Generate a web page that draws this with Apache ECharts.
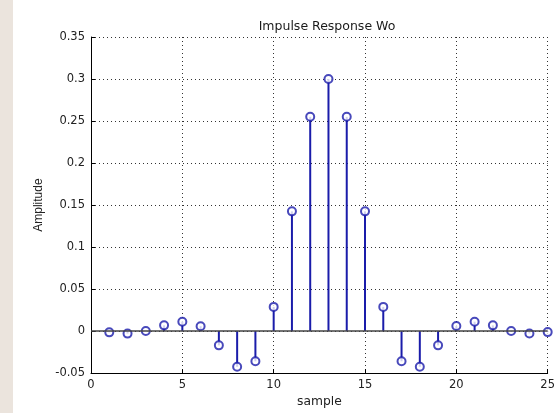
<!DOCTYPE html>
<html>
<head>
<meta charset="utf-8">
<script src="https://cdn.jsdelivr.net/npm/echarts@6/dist/echarts.min.js"></script>
<style>
  html, body { margin: 0; padding: 0; background: #fff; }
  #chart { width: 558px; height: 413px; }
</style>
</head>
<body>
<div id="chart"></div>
<script>
// samples and impulse response values
const samples = [1, 2, 3, 4, 5, 6, 7, 8, 9, 10, 11, 12, 13, 14, 15, 16, 17, 18, 19, 20, 21, 22, 23, 24, 25]
const amplitude = [
  -0.0015, -0.003, 0.0, 0.0068, 0.0112, 0.0058, -0.017, -0.0425, -0.036, 0.0288,
  0.1425, 0.255, 0.300, 0.255, 0.1425, 0.0288, -0.036, -0.0425, -0.017, 0.006,
  0.0112, 0.0068, 0.0, -0.0028, -0.0012
]
const xTicks = { min: 0, max: 25, interval: 5 }
const yTicks = { min: -0.05, max: 0.35, interval: 0.05 }

const stemColor = '#1a1caa'
const points = samples.map((s, i) => [s, amplitude[i]])

const chart = echarts.init(document.getElementById('chart'))
const tickFont = { fontFamily: 'DejaVu Sans, sans-serif', fontSize: 11.5, color: '#222' }

chart.setOption({
  animation: false,
  backgroundColor: '#fff',
  graphic: [
    // beige strip on the left edge of the screenshot
    { type: 'rect', left: 0, top: 0, shape: { width: 13, height: 413 }, style: { fill: '#ebe4dd' }, z: -10 }
  ],
  title: {
    text: 'Impulse Response Wo',
    left: 322,
    textAlign: 'center',
    top: 15,
    textStyle: { fontFamily: 'DejaVu Sans, sans-serif', fontSize: 12.5, fontWeight: 'normal', color: '#1a1a1a' }
  },
  grid: { left: 91, right: 4, top: 37, bottom: 38 },
  xAxis: {
    type: 'value',
    min: xTicks.min,
    max: xTicks.max,
    interval: xTicks.interval,
    name: 'sample',
    nameLocation: 'middle',
    nameGap: 21,
    nameTextStyle: { fontFamily: 'DejaVu Sans, sans-serif', fontSize: 12.3, color: '#222' },
    axisLine: { onZero: false, lineStyle: { color: '#000', width: 1 } },
    axisTick: { inside: true, length: 4, lineStyle: { color: '#000' } },
    axisLabel: Object.assign({ margin: 6 }, tickFont),
    splitLine: { show: true, lineStyle: { color: '#333', type: [1, 3], width: 1 } }
  },
  yAxis: {
    type: 'value',
    min: yTicks.min,
    max: yTicks.max,
    interval: yTicks.interval,
    name: 'Amplitude',
    nameLocation: 'middle',
    nameGap: 43,
    nameRotate: 90,
    nameTextStyle: { fontFamily: 'Liberation Sans, Arial, sans-serif', fontSize: 12, color: '#222' },
    axisLine: { show: true, lineStyle: { color: '#000', width: 1 } },
    axisTick: { show: true, inside: true, length: 4, lineStyle: { color: '#000' } },
    axisLabel: Object.assign({ margin: 6 }, tickFont),
    splitLine: { show: true, lineStyle: { color: '#333', type: [1, 3], width: 1 } }
  },
  series: [
    {
      type: 'custom',
      data: points,
      renderItem(params, api) {
        const top = api.coord([api.value(0), api.value(1)])
        const base = api.coord([api.value(0), 0])
        return {
          type: 'line',
          shape: { x1: base[0], y1: base[1], x2: top[0], y2: top[1] },
          style: { stroke: stemColor, lineWidth: 2 }
        }
      },
      z: 3
    },
    {
      type: 'scatter',
      data: points,
      symbol: 'circle',
      symbolSize: 8,
      itemStyle: { color: '#fff', borderColor: stemColor, borderWidth: 2 },
      z: 4,
      markLine: {
        silent: true,
        symbol: ['none', 'none'],
        label: { show: false },
        lineStyle: { color: '#444', type: 'solid', width: 1.5 },
        data: [{ yAxis: 0 }]
      }
    }
  ]
})
</script>
</body>
</html>
